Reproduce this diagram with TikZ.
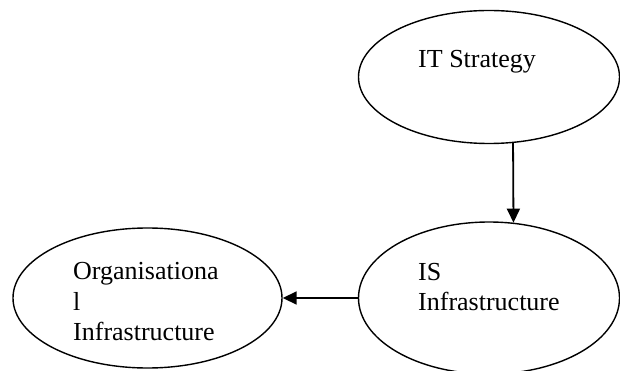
\documentclass[tikz,border=0pt]{standalone}
\usepackage{fontspec}
\setmainfont{Liberation Serif}
\usetikzlibrary{shapes.geometric,arrows.meta}
\begin{document}
\begin{tikzpicture}[x=1pt,y=1pt,
  oval/.style={ellipse,draw,line width=1.4pt,inner sep=0pt},
  label/.style={anchor=base west,inner sep=0pt,font=\fontsize{26}{30}\selectfont},
  link/.style={line width=1.8pt,-{Triangle[length=14pt,width=13pt]}}]
\useasboundingbox (0,0) rectangle (620,-371);
% ellipses
\node[oval,minimum width=261pt,minimum height=133pt] (its) at (489,-77) {};
\node[oval,minimum width=261pt,minimum height=152pt] (isi) at (489,-298) {};
\node[oval,minimum width=269pt,minimum height=140pt] (org) at (147.5,-298) {};
% labels
\node[label] (itsT) at (418,-68) {IT Strategy};
\node[label] (isiA) at (418,-280) {IS};
\node[label] (isiB) at (418,-310) {Infrastructure};
\node[label] (orgA) at (73,-279) {Organisationa};
\node[label] (orgB) at (73,-310) {l};
\node[label] (orgC) at (73,-340) {Infrastructure};
% connectors
\draw[link] (its.-70.5) -- (isi.72.9);
\draw[link] (isi.west) -- (org.east);
\end{tikzpicture}
\end{document}
